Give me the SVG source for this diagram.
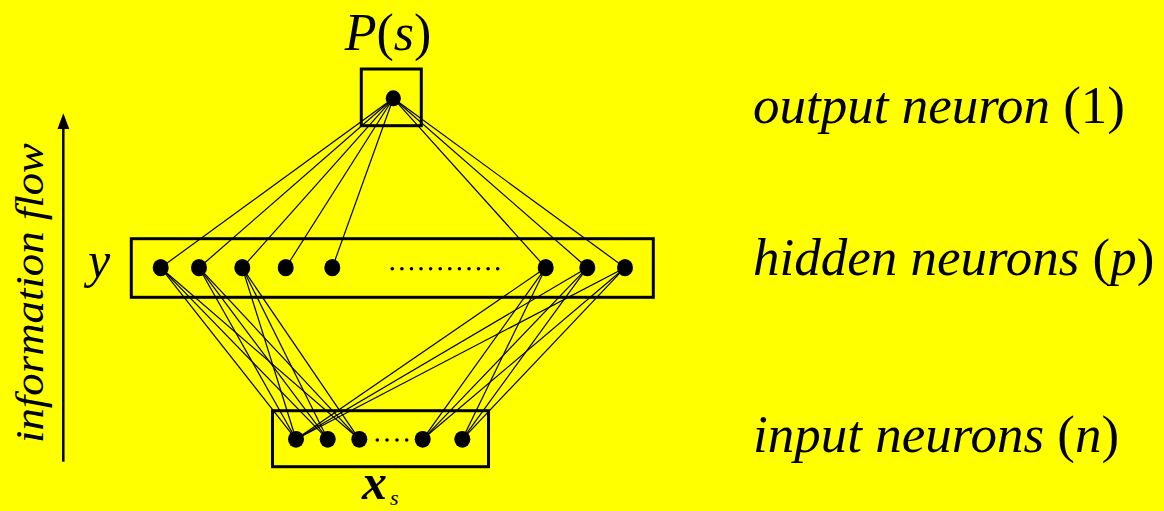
<svg xmlns="http://www.w3.org/2000/svg" width="1164" height="511" viewBox="0 0 1164 511">
<defs>
<style>
.box{fill:none;stroke:#000;stroke-width:3}
.n{fill:#000}
.d{fill:#000}
.c line{stroke:#000;stroke-width:1.2}
.t{font-family:"Liberation Serif","Times New Roman",serif;fill:#000}
.i{font-style:italic}
</style>
</defs>
<rect width="1164" height="511" fill="#FFFF00"/>
<g id="connectors" class="c">
<line x1="393.3" y1="98.3" x2="160.7" y2="267.7"/>
<line x1="393.3" y1="98.3" x2="199" y2="267.7"/>
<line x1="393.3" y1="98.3" x2="242.3" y2="267.7"/>
<line x1="393.3" y1="98.3" x2="285.7" y2="267.7"/>
<line x1="393.3" y1="98.3" x2="332.3" y2="267.7"/>
<line x1="393.3" y1="98.3" x2="545.7" y2="267.7"/>
<line x1="393.3" y1="98.3" x2="587.3" y2="267.7"/>
<line x1="393.3" y1="98.3" x2="625" y2="267.7"/>
<line x1="160.7" y1="267.7" x2="296" y2="439.3"/>
<line x1="160.7" y1="267.7" x2="327.7" y2="439.3"/>
<line x1="160.7" y1="267.7" x2="359.3" y2="439.3"/>
<line x1="199" y1="267.7" x2="296" y2="439.3"/>
<line x1="199" y1="267.7" x2="327.7" y2="439.3"/>
<line x1="199" y1="267.7" x2="359.3" y2="439.3"/>
<line x1="242.3" y1="267.7" x2="296" y2="439.3"/>
<line x1="242.3" y1="267.7" x2="327.7" y2="439.3"/>
<line x1="242.3" y1="267.7" x2="359.3" y2="439.3"/>
<line x1="545.7" y1="267.7" x2="296" y2="439.3"/>
<line x1="545.7" y1="267.7" x2="422.7" y2="439.3"/>
<line x1="545.7" y1="267.7" x2="462.3" y2="439.3"/>
<line x1="587.3" y1="267.7" x2="296" y2="439.3"/>
<line x1="587.3" y1="267.7" x2="422.7" y2="439.3"/>
<line x1="587.3" y1="267.7" x2="462.3" y2="439.3"/>
<line x1="625" y1="267.7" x2="296" y2="439.3"/>
<line x1="625" y1="267.7" x2="422.7" y2="439.3"/>
<line x1="625" y1="267.7" x2="462.3" y2="439.3"/>
</g>
<g id="output-layer">
<rect class="box" x="361.3" y="69" width="60" height="56.7"/>
<ellipse class="n" cx="393.3" cy="98.3" rx="7.6" ry="8"/>
<text class="t" x="388" y="50" font-size="52" text-anchor="middle"><tspan class="i">P</tspan>(<tspan class="i">s</tspan>)</text>
</g>
<g id="hidden-layer">
<rect class="box" x="131.3" y="238.7" width="522" height="58.6"/>
<ellipse class="n" cx="160.7" cy="267.7" rx="8" ry="8.6"/>
<ellipse class="n" cx="199" cy="267.7" rx="8" ry="8.6"/>
<ellipse class="n" cx="242.3" cy="267.7" rx="8" ry="8.6"/>
<ellipse class="n" cx="285.7" cy="267.7" rx="8" ry="8.6"/>
<ellipse class="n" cx="332.3" cy="267.7" rx="8" ry="8.6"/>
<ellipse class="n" cx="545.7" cy="267.7" rx="8" ry="8.6"/>
<ellipse class="n" cx="587.3" cy="267.7" rx="8" ry="8.6"/>
<ellipse class="n" cx="625" cy="267.7" rx="8" ry="8.6"/>
<g class="d">
<circle cx="392.3" cy="268.7" r="1.8"/><circle cx="401.9" cy="268.7" r="1.8"/><circle cx="411.5" cy="268.7" r="1.8"/><circle cx="421" cy="268.7" r="1.8"/><circle cx="430.6" cy="268.7" r="1.8"/><circle cx="440.2" cy="268.7" r="1.8"/><circle cx="449.8" cy="268.7" r="1.8"/><circle cx="459.4" cy="268.7" r="1.8"/><circle cx="469" cy="268.7" r="1.8"/><circle cx="478.5" cy="268.7" r="1.8"/><circle cx="488.1" cy="268.7" r="1.8"/><circle cx="497.7" cy="268.7" r="1.8"/>
</g>
<text class="t i" x="88" y="277" font-size="50">y</text>
</g>
<g id="input-layer">
<rect class="box" x="272.5" y="410.7" width="216" height="56"/>
<ellipse class="n" cx="296" cy="439.3" rx="8" ry="8.4"/>
<ellipse class="n" cx="327.7" cy="439.3" rx="8" ry="8.4"/>
<ellipse class="n" cx="359.3" cy="439.3" rx="8" ry="8.4"/>
<ellipse class="n" cx="422.7" cy="439.3" rx="8" ry="8.4"/>
<ellipse class="n" cx="462.3" cy="439.3" rx="8" ry="8.4"/>
<g class="d">
<circle cx="377.3" cy="440" r="1.8"/><circle cx="387" cy="440" r="1.8"/><circle cx="397" cy="440" r="1.8"/><circle cx="406.7" cy="440" r="1.8"/>
</g>
<text class="t i" x="362" y="499" font-size="50" font-weight="bold">x</text>
<text class="t i" x="390" y="505" font-size="22">s</text>
</g>
<g id="flow-arrow">
<line x1="63.3" y1="461.7" x2="63.3" y2="125" stroke="#000" stroke-width="2.5"/>
<polygon points="63.3,113.3 57.5,129 69.3,129" fill="#000"/>
<text class="t i" transform="translate(43,443) rotate(-90)" x="0" y="0" font-size="40" textLength="300" lengthAdjust="spacingAndGlyphs">information flow</text>
</g>
<g id="labels">
<text class="t" x="753" y="123.3" font-size="53"><tspan class="i">output neuron</tspan> (1)</text>
<text class="t" x="753" y="275" font-size="53"><tspan class="i">hidden neurons</tspan> (<tspan class="i">p</tspan>)</text>
<text class="t" x="753" y="451.7" font-size="53"><tspan class="i">input neurons</tspan> (<tspan class="i">n</tspan>)</text>
</g>
</svg>
